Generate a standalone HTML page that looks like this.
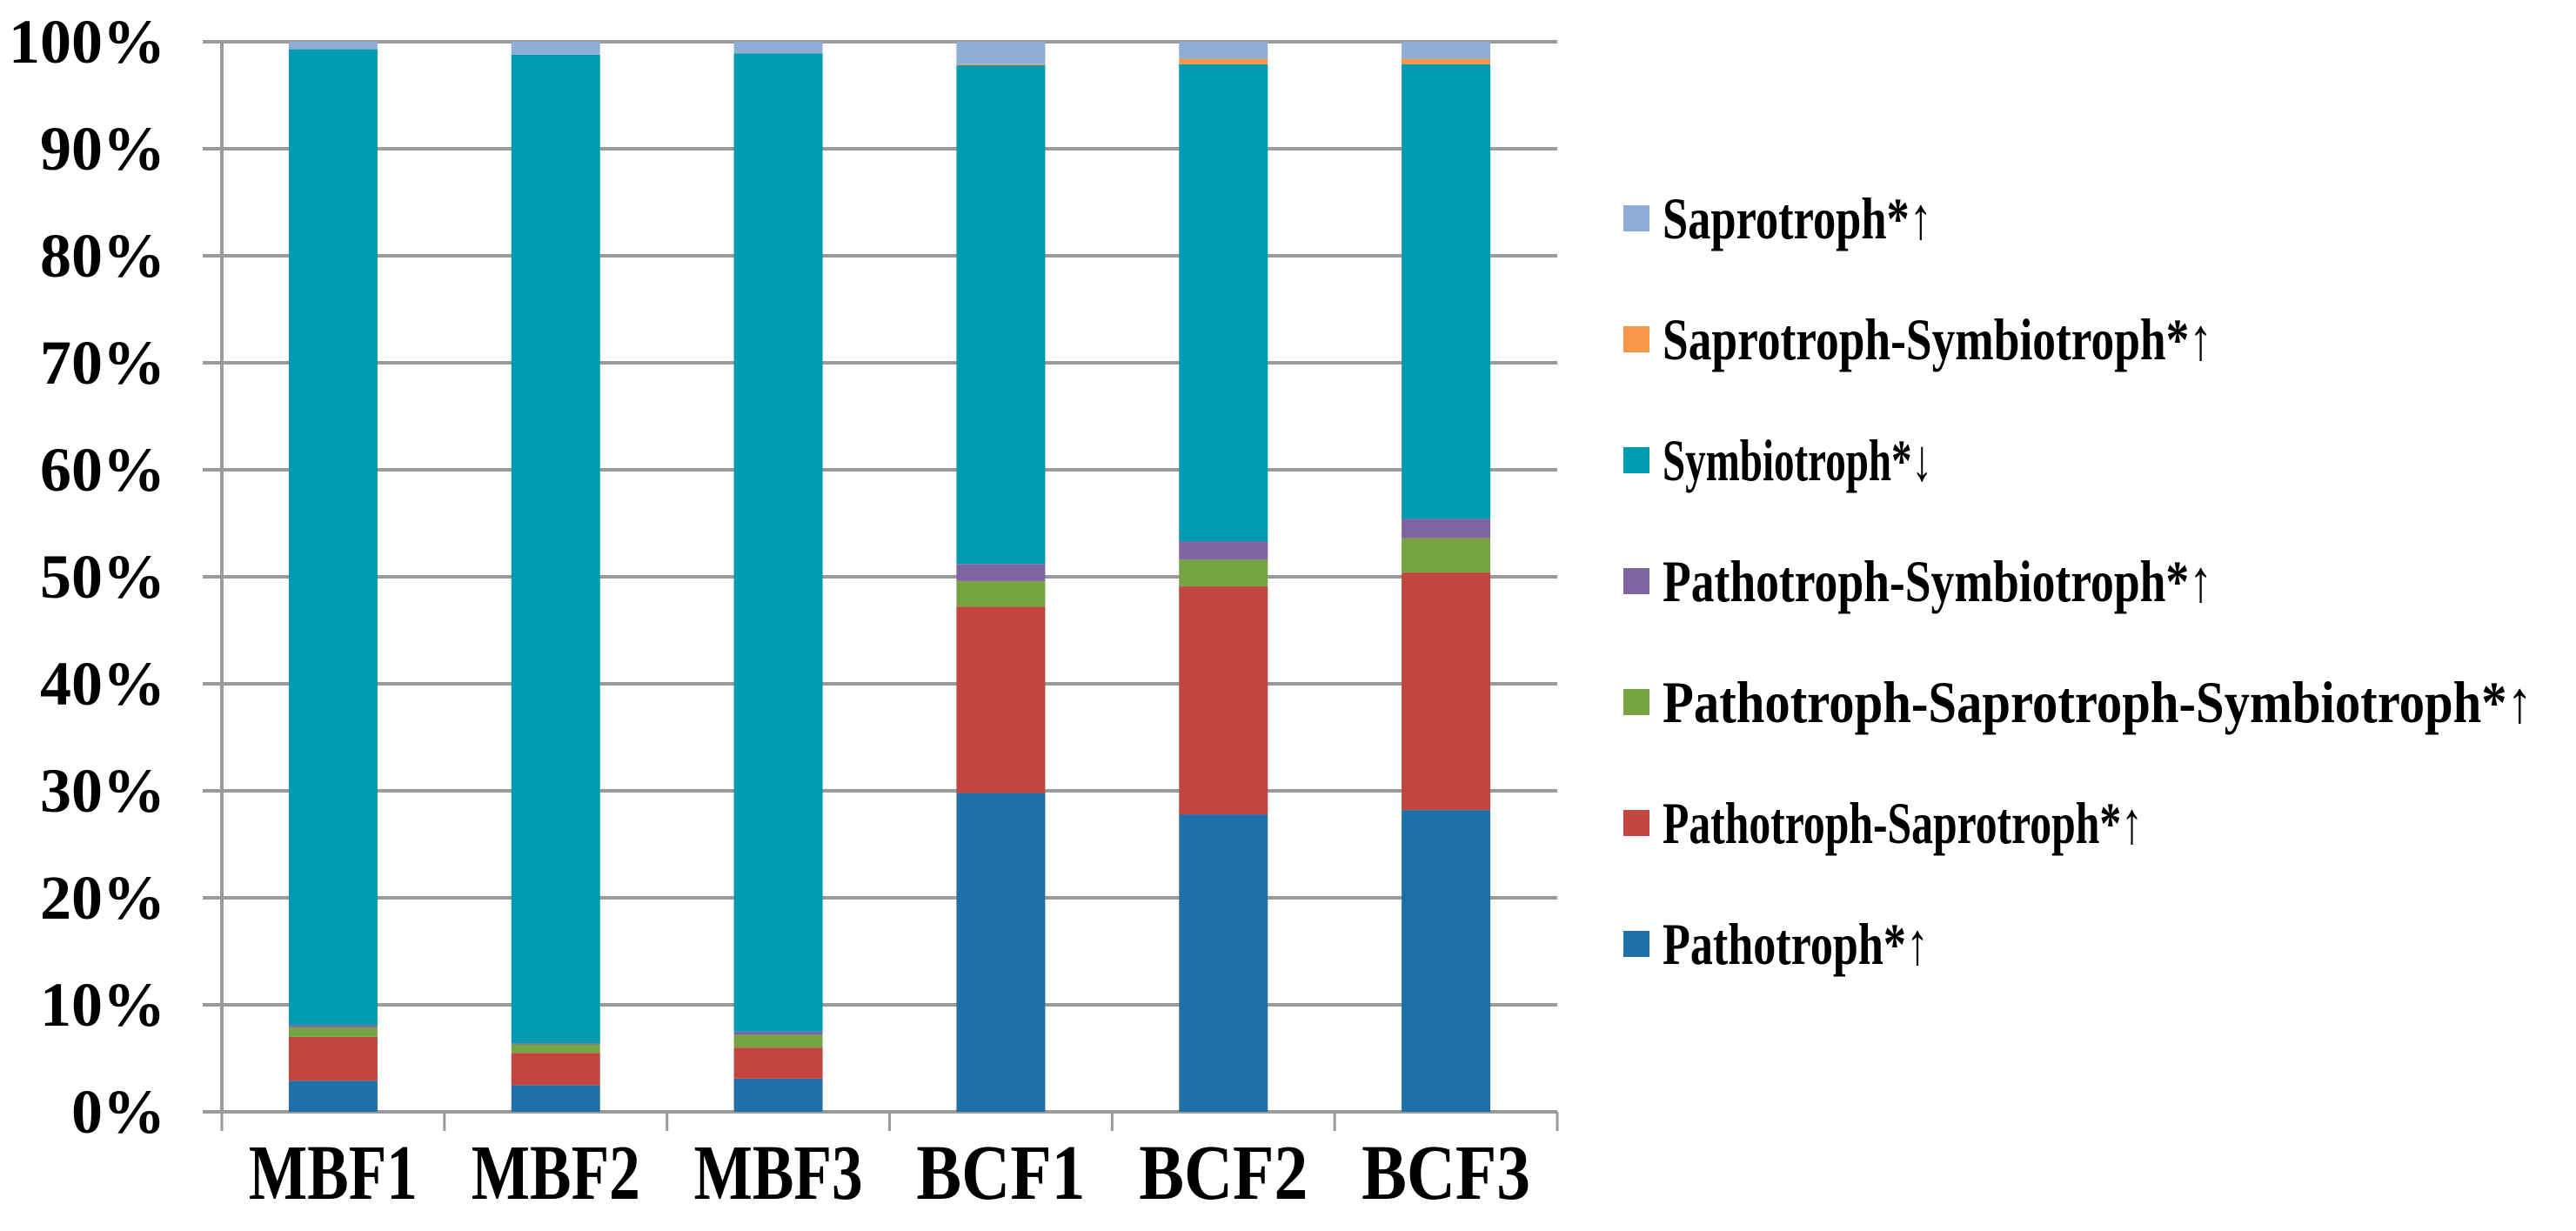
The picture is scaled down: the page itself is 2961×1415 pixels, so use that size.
<!DOCTYPE html>
<html><head><meta charset="utf-8"><style>
html,body{margin:0;padding:0;background:#fff;}
svg{display:block;}
text{font-family:"Liberation Serif",serif;font-weight:bold;fill:#000;}
</style></head><body>
<svg id="chart" width="2961" height="1415" viewBox="0 0 2961 1415" xmlns="http://www.w3.org/2000/svg">
<g id="grid"></g>
<g id="bars"></g>
<g id="axes"></g>
<g id="legend"></g>
</svg>
<script>
const categories = ["MBF1","MBF2","MBF3","BCF1","BCF2","BCF3"];
const seriesNames = ["Pathotroph*↑","Pathotroph-Saprotroph*↑","Pathotroph-Saprotroph-Symbiotroph*↑","Pathotroph-Symbiotroph*↑","Symbiotroph*↓","Saprotroph-Symbiotroph*↑","Saprotroph*↑"];
const seriesColors = ["#1F70A9","#C4453F","#77A442","#8064A2","#009AB2","#F79646","#8FAED6"];
const pathotroph = [2.9, 2.5, 3.1, 29.8, 27.8, 28.2];
const pathoSapro = [4.1, 3.0, 2.9, 17.4, 21.3, 22.2];
const pathoSaproSym = [0.9, 0.8, 1.2, 2.4, 2.5, 3.2];
const pathoSym = [0.2, 0.1, 0.3, 1.6, 1.7, 1.8];
const symbiotroph = [91.2, 92.4, 91.4, 46.6, 44.6, 42.5];
const saproSym = [0.0, 0.0, 0.0, 0.1, 0.5, 0.5];
const saprotroph = [0.7, 1.2, 1.1, 2.1, 1.6, 1.6];
const yTicks = ["0%","10%","20%","30%","40%","50%","60%","70%","80%","90%","100%"];
const series = [pathotroph, pathoSapro, pathoSaproSym, pathoSym, symbiotroph, saproSym, saprotroph];

const NS = "http://www.w3.org/2000/svg";
const X0 = 255, X1 = 1790, Y0 = 1278, Y100 = 48;
const bw = (X1 - X0) / categories.length;
const barW = 102;
function y(v){ return Y0 - (Y0 - Y100) * v / 100; }
function xc(i){ return X0 + bw * (i + 0.5); }
function mk(tag, attrs, parent){
  const e = document.createElementNS(NS, tag);
  for (const k in attrs) e.setAttribute(k, attrs[k]);
  parent.appendChild(e);
  return e;
}
const grid = document.getElementById("grid");
const bars = document.getElementById("bars");
const axes = document.getElementById("axes");
const legend = document.getElementById("legend");

yTicks.forEach((t, i) => {
  const v = i * 10;
  const l = mk("line", {x1: 233, x2: X1, y1: y(v), y2: y(v), stroke: "#9a9a9a", "stroke-width": 4}, grid);
  
  
  const tx = mk("text", {x: 190, y: y(v) + 24, "text-anchor": "end", "font-size": 72}, axes);
  tx.textContent = t;
  
  
});

const yaxis = mk("line", {x1: X0, x2: X0, y1: Y100 - 2, y2: Y0, stroke: "#9a9a9a", "stroke-width": 4}, axes);



for (let i = 0; i <= categories.length; i++) {
  const tk = mk("line", {x1: X0 + bw * i, x2: X0 + bw * i, y1: Y0, y2: 1300, stroke: "#9a9a9a", "stroke-width": 3}, axes);
  
  
}

categories.forEach((c, i) => {
  let cum = 0;
  series.forEach((s, k) => {
    const v = s[i];
    if (v > 0) {
      const r = mk("rect", {x: xc(i) - barW / 2, y: y(cum + v), width: barW, height: y(cum) - y(cum + v), fill: seriesColors[k]}, bars);
      
      
    }
    cum += v;
  });
  const lb = mk("text", {x: xc(i) - 97, y: 1378, "font-size": 90, textLength: 194, lengthAdjust: "spacingAndGlyphs"}, axes);
  lb.textContent = c;
  
  
});

const legendY = [1085, 946, 807, 668, 529, 390, 251];
const legendW = [306, 552, 1000, 632, 310, 632, 310];
seriesNames.forEach((n, k) => {
  const g = mk("g", {}, legend);
  
  
  const sw = mk("rect", {x: 1866, y: legendY[k] - 15, width: 30, height: 30, fill: seriesColors[k]}, g);
  
  
  const t = mk("text", {x: 1911, y: legendY[k] + 23, "font-size": 68, textLength: legendW[k], lengthAdjust: "spacingAndGlyphs"}, g);
  t.textContent = n;
  
  
});
</script>
</body></html>
